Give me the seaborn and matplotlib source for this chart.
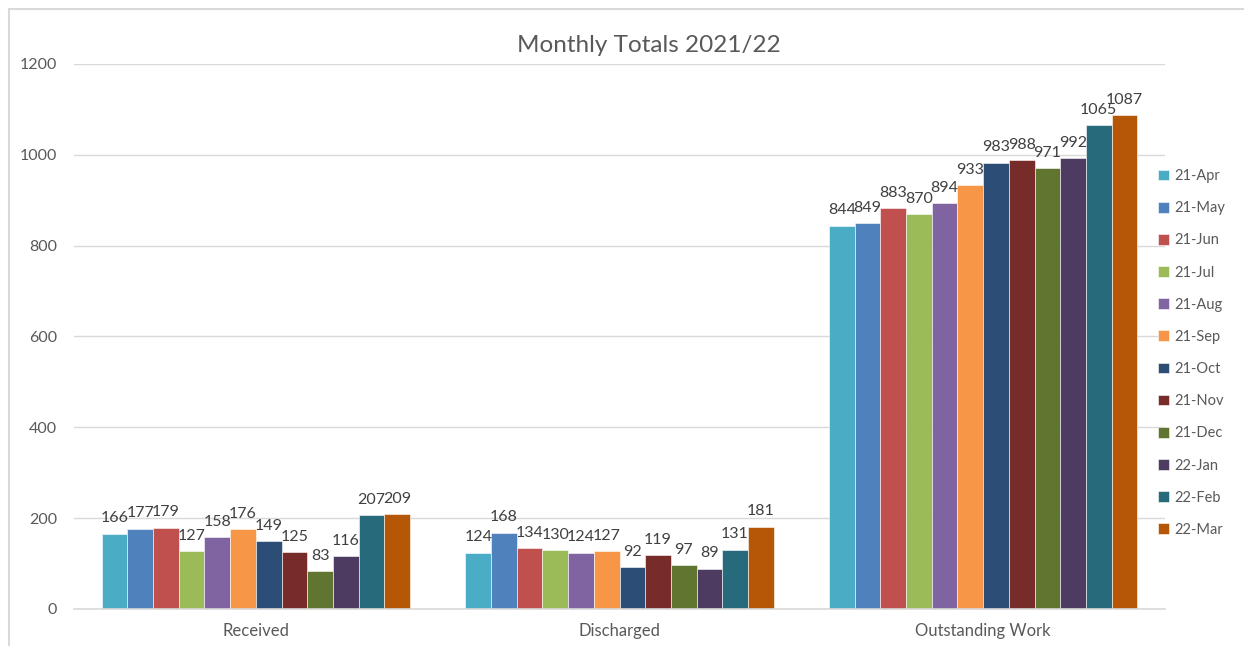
import matplotlib
matplotlib.use("Agg")
import matplotlib.pyplot as plt
from matplotlib.patches import Rectangle
import seaborn as sns
import pandas as pd

categories = ["Received", "Discharged", "Outstanding Work"]
months = ["21-Apr", "21-May", "21-Jun", "21-Jul", "21-Aug", "21-Sep",
          "21-Oct", "21-Nov", "21-Dec", "22-Jan", "22-Feb", "22-Mar"]
received = [166, 177, 179, 127, 158, 176, 149, 125, 83, 116, 207, 209]
discharged = [124, 168, 134, 130, 124, 127, 92, 119, 97, 89, 131, 181]
outstanding = [844, 849, 883, 870, 894, 933, 983, 988, 971, 992, 1065, 1087]
colors = ["#4BACC6", "#4F81BD", "#C0504D", "#9BBB59", "#8064A2", "#F79646",
          "#2C4D75", "#772C2A", "#5F7530", "#4D3B62", "#276A7C", "#B65708"]
yticks = [0, 200, 400, 600, 800, 1000, 1200]

rows = []
for cat, vals in zip(categories, [received, discharged, outstanding]):
    for m, v in zip(months, vals):
        rows.append({"Category": cat, "Month": m, "Value": v})
df = pd.DataFrame(rows)

sns.set_theme(style="white")
plt.rcParams["font.family"] = ["Lato", "DejaVu Sans"]

fig = plt.figure(figsize=(12.44, 6.46), dpi=100)
ax = fig.add_axes([74/1244, 1 - 609/646, (1165 - 74)/1244, (609 - 64)/646])

sns.barplot(data=df, x="Category", y="Value", hue="Month", order=categories,
            hue_order=months, palette=colors, width=0.847, gap=0,
            saturation=1, ax=ax, edgecolor="#FFFFFF", linewidth=0.4,
            errorbar=None)

for cont in ax.containers:
    ax.bar_label(cont, padding=6, fontsize=11.5, color="#404040")

ax.set_ylim(0, 1200)
ax.set_xlim(-0.5, 2.5)
ax.set_yticks(yticks)
ax.set_yticklabels([str(t) for t in yticks])
ax.yaxis.grid(True, color="#D9D9D9", linewidth=1)
ax.set_axisbelow(True)
for s in ["top", "right", "left"]:
    ax.spines[s].set_visible(False)
ax.spines["bottom"].set_color("#D9D9D9")
ax.spines["bottom"].set_linewidth(1.2)
ax.tick_params(axis="both", length=0, labelcolor="#595959")
ax.tick_params(axis="y", pad=12, labelsize=11.5)
ax.tick_params(axis="x", pad=10, labelsize=12)
ax.set_xlabel("")
ax.set_ylabel("")

fig.text(649/1244, 1 - 46/646, "Monthly Totals 2021/22", ha="center", va="center",
         fontsize=17.5, color="#595959")

handles, labels = ax.get_legend_handles_labels()
ax.legend(handles, labels, loc="center left", bbox_to_anchor=(1152/1244, 1 - 353/646),
          bbox_transform=fig.transFigure, frameon=False, fontsize=10.5,
          handlelength=0.75, handleheight=0.75, handletextpad=0.35,
          labelspacing=1.245, labelcolor="#595959", borderaxespad=0)

fig.patches.append(Rectangle((9/1244, -0.05), 1.2, 1 - 9/646 + 0.05,
                             transform=fig.transFigure, fill=False,
                             edgecolor="#D9D9D9", linewidth=1.5))

fig.savefig("out.png", dpi=100, facecolor="white")
